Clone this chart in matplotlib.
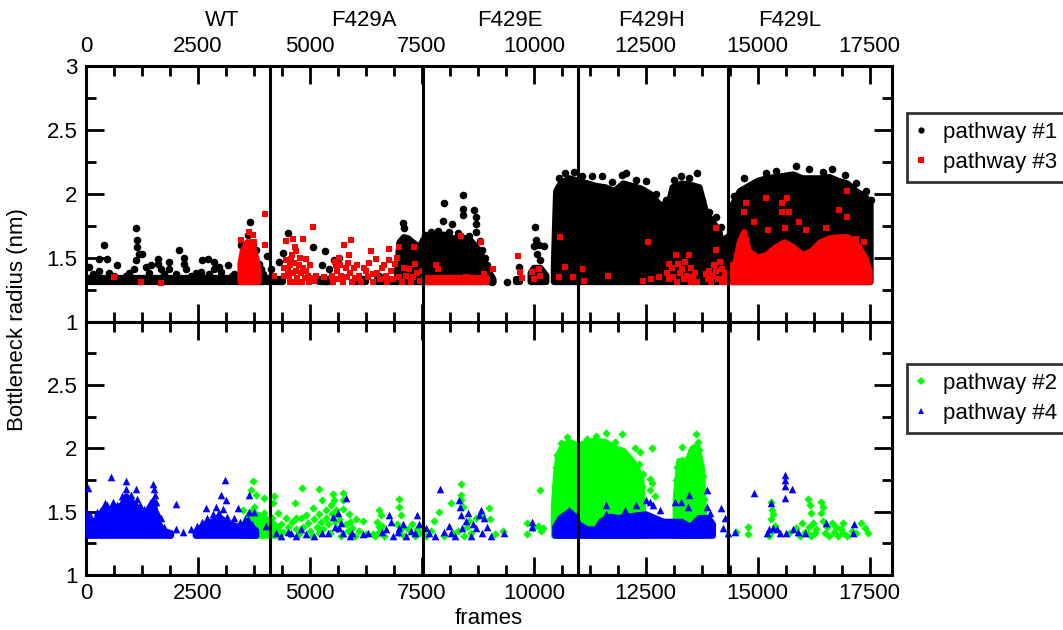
import numpy as np
import matplotlib.pyplot as plt
from matplotlib.lines import Line2D
from matplotlib.ticker import MultipleLocator, FuncFormatter

plt.rcParams['font.family'] = ['Liberation Sans', 'DejaVu Sans']
plt.rcParams['font.size'] = 16

nan = np.nan
BASE = 1.31  # lowest bottleneck radius recorded

systems = ['WT', 'F429A', 'F429E', 'F429H', 'F429L']
system_mid = [3050, 6200, 9470, 12630, 15720]
boundaries = [4100, 7530, 10980, 14340]

# ---- pathway #1 (black) : isolated frames (frame, radius)
p1_pts = [(70, 1.43), (300, 1.49), (300, 1.40), (410, 1.60), (480, 1.49), (700, 1.44), (890, 1.36),
          (150, 1.37), (520, 1.38), (620, 1.36), (950, 1.38), (1400, 1.38), (1750, 1.37), (2000, 1.37),
          (2350, 1.36), (2450, 1.38), (2750, 1.37), (3250, 1.36), (3950, 1.37),
          (1120, 1.73), (1130, 1.64), (1150, 1.58), (1190, 1.53), (1115, 1.48), (1080, 1.41), (1260, 1.53),
          (1340, 1.43), (1450, 1.44), (1600, 1.49), (1600, 1.45), (1670, 1.41), (1860, 1.47), (1860, 1.41),
          (2080, 1.56), (2190, 1.50), (2190, 1.45), (2230, 1.41), (2570, 1.39), (2600, 1.48), (2720, 1.49),
          (2860, 1.47), (2860, 1.41), (2980, 1.43), (3010, 1.39), (3180, 1.44), (3310, 1.37), (3460, 1.60),
          (3500, 1.50), (3660, 1.78), (3610, 1.68), (3720, 1.61), (3790, 1.56), (3870, 1.45), (3900, 1.41),
          (4050, 1.51), (4130, 1.41),
          (4310, 1.47), (4500, 1.69), (4390, 1.54), (5060, 1.58), (5270, 1.44), (5340, 1.55), (5430, 1.41),
          (5540, 1.48), (5650, 1.50), (5360, 1.32), (6550, 1.36), (7070, 1.77), (7100, 1.73),
          (7560, 1.68), (7700, 1.70), (7850, 1.71), (8100, 1.70), (8300, 1.69), (8550, 1.67), (8900, 1.50),
          (8950, 1.44),
          (7970, 1.79), (8000, 1.93), (8180, 1.76), (8420, 1.99), (8410, 1.88), (8420, 1.83), (8670, 1.87),
          (8700, 1.82), (8700, 1.76), (8700, 1.70), (8790, 1.63), (8850, 1.56), (8890, 1.48), (9040, 1.35),
          (9070, 1.31), (9410, 1.31), (9670, 1.43), (9670, 1.33), (10030, 1.74), (10040, 1.64), (10000, 1.59),
          (10120, 1.60), (10230, 1.59), (10080, 1.53), (10150, 1.48),
          (10560, 2.12), (10700, 2.16), (10900, 2.17), (11070, 2.14), (11310, 2.14), (11530, 2.14),
          (11750, 2.09), (11970, 2.15), (12060, 2.16), (12280, 2.11), (12500, 2.10), (12720, 2.00),
          (12950, 1.95), (13130, 2.11), (13280, 2.14), (13470, 2.12), (13650, 2.16), (13760, 1.95),
          (13910, 1.86), (14060, 1.82), (14180, 1.74),
          (14480, 1.98), (14700, 2.12), (15180, 2.16), (15400, 2.18), (15850, 2.22), (16150, 2.19),
          (16450, 2.17), (16670, 2.19), (16960, 2.15), (17190, 2.08), (17410, 2.02), (17520, 1.95)]
# densely populated stretches: upper edge of the cloud (nan splits stretches)
p1_band_x = [0, 4150, nan, 4100, 4400, nan, 5200, 5500, nan, 6000, 6250, nan, 6500, 6950,
             nan, 6950, 7000, 7100, 7200, 7300, 7450, 7530, 7600, 7800, 8000, 8200, 8400, 8600, 8800, 8950,
             9100, nan, 9380, 9440, nan, 9600, 9700, nan, 9930, 10000, 10150, 10280,
             nan, 10450, 10500, 10600, 10800, 11000, 11200, 11400, 11600, 11800, 12000, 12200, 12400,
             12600, 12800, 13000, 13100, 13300, 13500, 13700, 13850, 14000, 14150, 14220,
             14280, 14400, 14450, 14600, 14800, 15000, 15200, 15400, 15600, 15800, 16000, 16200, 16400,
             16600, 16800, 17000, 17200, 17400, 17520]
p1_band_top = [1.34, 1.34, nan, 1.33, 1.33, nan, 1.33, 1.33, nan, 1.33, 1.33, nan, 1.33, 1.33,
               nan, 1.40, 1.62, 1.66, 1.65, 1.62, 1.58, 1.64, 1.66, 1.68, 1.68, 1.65, 1.66, 1.63, 1.55, 1.42,
               1.33, nan, 1.31, 1.31, nan, 1.33, 1.33, nan, 1.38, 1.42, 1.42, 1.36,
               nan, 1.45, 2.02, 2.08, 2.12, 2.10, 2.08, 2.06, 2.05, 2.02, 2.08, 2.06, 2.04,
               2.00, 1.92, 1.90, 2.05, 2.08, 2.07, 2.05, 1.85, 1.78, 1.70, 1.55,
               1.65, 1.68, 1.92, 2.02, 2.06, 2.10, 2.12, 2.13, 2.14, 2.15, 2.12, 2.12, 2.12,
               2.13, 2.10, 2.08, 2.02, 1.98, 1.92]

# ---- pathway #3 (red)
p3_pts = [(630, 1.35), (1230, 1.31), (1670, 1.30), (3470, 1.64), (3650, 1.70), (3720, 1.68), (3760, 1.62),
          (3530, 1.56), (4000, 1.84), (4000, 1.60), (4200, 1.36),
          (4460, 1.63), (4630, 1.65), (4670, 1.58), (4840, 1.65), (5080, 1.74), (4910, 1.49), (4580, 1.49),
          (4690, 1.55), (5140, 1.36), (5320, 1.35), (5580, 1.44), (5770, 1.60), (5920, 1.64), (5880, 1.52),
          (5650, 1.50), (6060, 1.44), (6360, 1.55), (6470, 1.49), (6250, 1.40), (6400, 1.37), (6770, 1.57),
          (6770, 1.48), (6660, 1.44), (6990, 1.58), (6950, 1.50), (7330, 1.58), (7220, 1.41), (7400, 1.38),
          (4420, 1.36), (4420, 1.42), (4460, 1.48), (4500, 1.40), (4540, 1.36), (4560, 1.44), (4600, 1.52),
          (4620, 1.38), (4650, 1.46), (4700, 1.40), (4720, 1.34), (4760, 1.44), (4780, 1.50), (4800, 1.38),
          (4850, 1.42), (4880, 1.34), (4920, 1.40), (4960, 1.36), (5000, 1.44), (5020, 1.34), (4550, 1.31),
          (4680, 1.31), (4830, 1.31), (4980, 1.31), (5100, 1.32),
          (5500, 1.36), (5520, 1.31), (5600, 1.40), (5620, 1.33), (5680, 1.44), (5700, 1.36), (5750, 1.31),
          (5800, 1.42), (5820, 1.35), (5860, 1.46), (5900, 1.38), (5950, 1.31), (5980, 1.42), (6010, 1.34),
          (5560, 1.47), (6100, 1.36), (6150, 1.31), (6200, 1.42), (6300, 1.35), (6330, 1.46), (6420, 1.31),
          (6500, 1.38), (6560, 1.33), (6600, 1.42), (6700, 1.36), (6730, 1.31), (6820, 1.40), (6850, 1.33),
          (6900, 1.45), (7000, 1.35), (7050, 1.31), (7100, 1.42), (7150, 1.36), (7250, 1.31), (7300, 1.35),
          (7350, 1.45), (7450, 1.32), (7500, 1.40),
          (7810, 1.44), (7850, 1.41), (8370, 1.67), (8480, 1.35), (8820, 1.62), (8890, 1.37), (9080, 1.41),
          (9650, 1.51), (9700, 1.39), (9740, 1.34), (9970, 1.39), (10120, 1.41), (10150, 1.36), (10010, 1.33),
          (10580, 1.66), (10690, 1.43), (10560, 1.35), (10880, 1.35), (11070, 1.41), (11130, 1.32),
          (11660, 1.36), (12560, 1.62), (12430, 1.32), (12610, 1.33), (12800, 1.35), (13030, 1.45),
          (13170, 1.52), (13470, 1.52), (13320, 1.41), (13840, 1.37), (14060, 1.73), (14060, 1.56),
          (14030, 1.44), (13920, 1.40), (14210, 1.41), (14250, 1.34), (14400, 1.44),
          (12980, 1.38), (13020, 1.33), (13080, 1.42), (13120, 1.35), (13200, 1.31), (13230, 1.45),
          (13270, 1.38), (13350, 1.33), (13380, 1.47), (13420, 1.36), (13500, 1.42), (13520, 1.31),
          (13560, 1.35), (13600, 1.38), (13650, 1.31), (13900, 1.33), (13950, 1.31), (14000, 1.36),
          (14080, 1.40), (14120, 1.33), (14150, 1.47), (14200, 1.31), (14280, 1.38), (14320, 1.31),
          (14730, 1.93), (14700, 1.86), (14920, 1.78), (15180, 1.97), (15220, 1.72), (15550, 1.93),
          (15660, 1.97), (15550, 1.86), (15700, 1.86), (15620, 1.73), (15920, 1.78), (16070, 1.72),
          (16520, 1.73), (16820, 1.87), (17000, 2.02), (17000, 1.82), (17190, 1.65), (17370, 1.62),
          (17410, 1.48)]
p3_band_x = [3450, 3500, 3600, 3700, 3800, 3850, nan, 7550, 8950,
             nan, 14380, 14500, 14600, 14700, 14800, 15000, 15200, 15400, 15600, 15800, 16000, 16200,
             16400, 16600, 16800, 17000, 17200, 17400, 17500]
p3_band_top = [1.45, 1.55, 1.62, 1.62, 1.50, 1.40, nan, 1.34, 1.34,
               nan, 1.40, 1.45, 1.62, 1.70, 1.55, 1.50, 1.52, 1.58, 1.62, 1.58, 1.52, 1.55,
               1.62, 1.65, 1.66, 1.66, 1.62, 1.50, 1.40]

# ---- pathway #2 (green)
p2_pts = [(3720, 1.74), (3680, 1.67), (3790, 1.63), (3760, 1.54), (3500, 1.51), (3870, 1.47), (3980, 1.61),
          (3980, 1.49), (4200, 1.62), (4170, 1.57), (4280, 1.49), (4460, 1.45), (4670, 1.57), (4690, 1.45),
          (4820, 1.69), (4910, 1.47), (5060, 1.53), (5210, 1.68), (5280, 1.59), (5210, 1.48), (5360, 1.51),
          (5510, 1.64), (5540, 1.59), (5470, 1.55), (5580, 1.51), (5730, 1.65), (5730, 1.59), (5880, 1.48),
          (6030, 1.44), (6180, 1.43), (6400, 1.32), (6550, 1.51), (6580, 1.47), (6550, 1.38), (6990, 1.60),
          (6990, 1.54), (7030, 1.47), (7070, 1.38), (7290, 1.40), (7400, 1.36),
          (4150, 1.45), (4200, 1.38), (4250, 1.33), (4350, 1.40), (4400, 1.34), (4500, 1.38), (4550, 1.32),
          (4600, 1.42), (4700, 1.36), (4750, 1.32), (4800, 1.45), (4850, 1.38), (4950, 1.41), (5000, 1.35),
          (5050, 1.31), (5100, 1.44), (5150, 1.38), (5200, 1.33), (5250, 1.42), (5300, 1.36), (5350, 1.45),
          (5400, 1.40), (5450, 1.33), (5500, 1.48), (5550, 1.42), (5600, 1.36), (5650, 1.44), (5700, 1.31),
          (5750, 1.52), (5800, 1.40), (5850, 1.35), (5900, 1.42), (5950, 1.37), (6000, 1.31), (6100, 1.35),
          (6250, 1.32), (6450, 1.31), (6500, 1.42), (6550, 1.34), (6600, 1.39), (6650, 1.31), (6950, 1.40),
          (7000, 1.33), (7100, 1.31), (7200, 1.36), (7350, 1.31), (7450, 1.33),
          (7600, 1.31), (7700, 1.35), (8000, 1.31), (8200, 1.33), (8300, 1.35), (8450, 1.31), (8500, 1.38),
          (8600, 1.33),
          (7780, 1.43), (7890, 1.50), (8150, 1.57), (8370, 1.72), (8370, 1.63), (8370, 1.59), (8410, 1.54),
          (8560, 1.43), (8700, 1.45), (8850, 1.47), (9000, 1.53), (9020, 1.44), (9130, 1.32), (9320, 1.35),
          (9840, 1.41), (9840, 1.32), (9990, 1.37), (10130, 1.67), (10100, 1.39), (10170, 1.35), (10210, 1.37),
          (10480, 1.70), (10500, 1.85), (10520, 1.95), (10600, 2.04), (12350, 1.88), (12420, 1.70),
          (13180, 1.75), (13200, 1.85), (13780, 1.78), (13800, 1.60),
          (10750, 2.09), (10620, 2.00), (11180, 2.07), (11400, 2.10), (11620, 2.12), (11960, 2.11),
          (11810, 2.05), (12000, 1.96), (12250, 2.00), (12370, 1.97), (12440, 1.80), (12640, 2.00),
          (12590, 1.76), (12630, 1.73), (12590, 1.67), (12700, 1.62), (13300, 2.01), (13300, 1.91),
          (13620, 2.11), (13670, 2.05), (13690, 1.99), (13520, 1.99), (13700, 1.87), (13780, 1.68),
          (13930, 1.42), (13850, 1.35),
          (14520, 1.34), (14780, 1.38), (14780, 1.32), (15300, 1.58), (15330, 1.51), (15340, 1.48),
          (15380, 1.39), (15700, 1.33), (15850, 1.37), (16000, 1.41), (16120, 1.60), (16160, 1.55),
          (16200, 1.49), (16230, 1.41), (16270, 1.33), (16420, 1.58), (16460, 1.54), (16420, 1.49),
          (16650, 1.41), (16760, 1.38), (16900, 1.41), (16900, 1.33), (17310, 1.41), (17390, 1.37),
          (17460, 1.33), (17100, 1.35),
          (16100, 1.33), (16150, 1.38), (16200, 1.31), (16300, 1.36), (16450, 1.43), (16500, 1.33),
          (16550, 1.38), (16600, 1.31), (16700, 1.34), (16800, 1.31), (16850, 1.36), (17000, 1.31),
          (17200, 1.33), (15300, 1.44), (15320, 1.35), (15250, 1.31), (15950, 1.31), (16050, 1.34)]
p2_band_x = [3500, 3600, 3700, 3800, 3900, 4000, 4100, 4200, 4300,
             nan, 10450, 10500, 10550, 10650, 10800, 11000, 11200, 11400, 11600, 11800, 12000, 12150,
             12300, 12400, 12450, nan, 13170, 13250, 13350, 13450, 13550, 13650, 13750, 13800]
p2_band_top = [1.35, 1.45, 1.50, 1.48, 1.42, 1.45, 1.42, 1.40, 1.36,
               nan, 1.55, 1.80, 1.95, 2.02, 2.05, 2.02, 2.05, 2.06, 2.05, 2.00, 1.98, 1.92,
               1.85, 1.75, 1.45, nan, 1.60, 1.90, 1.88, 1.92, 2.00, 2.02, 1.85, 1.50]

# ---- pathway #4 (blue)
p4_pts = [(40, 1.69), (0, 1.50), (560, 1.77), (890, 1.74), (900, 1.68), (1120, 1.68), (1040, 1.58),
          (800, 1.62), (600, 1.58), (420, 1.57), (480, 1.55), (1200, 1.55), (1490, 1.72), (1520, 1.68),
          (1540, 1.63), (1560, 1.58), (1680, 1.45), (2010, 1.56), (2010, 1.36), (2160, 1.34), (2340, 1.36),
          (2490, 1.39), (2680, 1.53), (2900, 1.54), (3010, 1.63), (3110, 1.75), (3120, 1.59), (2980, 1.49),
          (2830, 1.48), (3390, 1.53), (3500, 1.39), (3630, 1.63), (3650, 1.50), (3610, 1.44), (3760, 1.50),
          (4020, 1.39),
          (100, 1.47), (200, 1.44), (250, 1.50), (350, 1.48), (500, 1.52), (650, 1.50), (700, 1.55),
          (750, 1.48), (850, 1.57), (950, 1.52), (1000, 1.63), (1050, 1.50), (1150, 1.60), (1250, 1.48),
          (1300, 1.52), (1350, 1.46), (1450, 1.55), (1600, 1.48), (1650, 1.40), (1750, 1.38), (2600, 1.42),
          (2700, 1.45), (2750, 1.40), (2850, 1.44), (2950, 1.48), (3050, 1.52), (3150, 1.46), (3250, 1.42),
          (3300, 1.45), (3450, 1.42), (3550, 1.44), (3700, 1.40),
          (4240, 1.33), (4580, 1.33), (4800, 1.36), (4910, 1.32), (5280, 1.33), (5510, 1.46), (5620, 1.49),
          (5730, 1.33), (5800, 1.61), (5650, 1.37), (5950, 1.33), (6180, 1.32), (6620, 1.34), (6770, 1.47),
          (6810, 1.42), (6960, 1.34), (7070, 1.40), (7250, 1.35), (7400, 1.47), (7440, 1.40),
          (4350, 1.31), (4500, 1.34), (4700, 1.31), (5100, 1.31), (5400, 1.33), (5550, 1.38), (5700, 1.41),
          (5900, 1.31), (6300, 1.33), (6700, 1.36), (6850, 1.31), (7000, 1.37), (7150, 1.31), (7350, 1.33),
          (7600, 1.37), (7800, 1.31), (8000, 1.34), (8250, 1.31), (8400, 1.37), (8600, 1.31), (8650, 1.40),
          (8850, 1.33), (8950, 1.38), (9050, 1.31),
          (7660, 1.33), (7900, 1.68), (8110, 1.39), (8150, 1.33), (8330, 1.59), (8350, 1.54), (8370, 1.47),
          (8480, 1.43), (8540, 1.49), (8780, 1.47), (8820, 1.51), (8890, 1.45), (8700, 1.37), (9330, 1.33),
          (9970, 1.42), (9970, 1.38),
          (10790, 1.51), (11620, 1.55), (11620, 1.48), (11600, 1.41), (12030, 1.51), (12290, 1.55),
          (12510, 1.59), (12590, 1.58), (12660, 1.55), (12810, 1.51), (13150, 1.58), (13290, 1.58),
          (13470, 1.63), (13440, 1.54), (13870, 1.67), (13860, 1.54), (13930, 1.49), (14190, 1.53),
          (14220, 1.37), (14260, 1.45), (14340, 1.33),
          (14490, 1.34), (14920, 1.65), (15300, 1.57), (15200, 1.33), (15260, 1.36), (15350, 1.37),
          (15430, 1.36), (15500, 1.33), (15600, 1.79), (15600, 1.75), (15600, 1.70), (15770, 1.68),
          (15600, 1.61), (15640, 1.33), (15800, 1.36), (15900, 1.34), (16050, 1.33), (16520, 1.41),
          (17160, 1.40), (17130, 1.33)]
p4_band_x = [0, 200, 400, 600, 800, 900, 1000, 1100, 1200, 1300, 1400, 1500, 1600, 1700, 1800, 1900,
             nan, 2450, 2600, 2800, 3000, 3200, 3400, 3600, 3800, nan,
             10480, 10600, 10800, 10950, 11000, 11200, 11400, 11500, 11700, 11900, 12100, 12300, 12500,
             12700, 12900, 13100, 13300, 13500, 13700, 13900, 14000]
p4_band_top = [1.45, 1.42, 1.52, 1.52, 1.55, 1.62, 1.58, 1.55, 1.50, 1.45, 1.52, 1.58, 1.42, 1.36, 1.34, 1.33,
               nan, 1.34, 1.38, 1.42, 1.45, 1.40, 1.38, 1.40, 1.35, nan,
               1.38, 1.45, 1.50, 1.45, 1.40, 1.36, 1.36, 1.42, 1.46, 1.45, 1.46, 1.47, 1.48,
               1.45, 1.42, 1.42, 1.42, 1.38, 1.45, 1.45, 1.40]


def draw_pathway(ax, pts, band_x, band_top, color, marker, size, z):
    bx = np.array(band_x, dtype=float)
    bt = np.array(band_top, dtype=float)
    ax.fill_between(bx, BASE, bt, color=color, edgecolor=color, linewidth=4.5,
                    joinstyle='round', zorder=z)
    x, y = zip(*pts)
    ax.scatter(x, y, s=size, c=color, marker=marker, linewidths=0, zorder=z + 0.5)


fig = plt.figure(figsize=(10.63, 6.30), dpi=100)
W, H = 1063, 630
ax1 = fig.add_axes([86 / W, 1 - 321.7 / H, 806 / W, 256 / H])
ax2 = fig.add_axes([86 / W, 1 - 575 / H, 806 / W, 253.3 / H])

draw_pathway(ax1, p1_pts, p1_band_x, p1_band_top, 'black', 'o', 30, 2)
draw_pathway(ax1, p3_pts, p3_band_x, p3_band_top, 'red', 's', 22, 3)
draw_pathway(ax2, p2_pts, p2_band_x, p2_band_top, '#00ff00', 'D', 18, 2)
draw_pathway(ax2, p4_pts, p4_band_x, p4_band_top, 'blue', '^', 30, 3)

fmt = FuncFormatter(lambda v, pos: f'{v:g}')
for ax in (ax1, ax2):
    ax.set_xlim(0, 18000)
    ax.set_ylim(1, 3)
    ax.xaxis.set_major_locator(MultipleLocator(2500))
    ax.xaxis.set_minor_locator(MultipleLocator(625))
    ax.yaxis.set_minor_locator(MultipleLocator(0.25))
    ax.yaxis.set_major_formatter(fmt)
    ax.tick_params(which='both', direction='in', top=True, right=True, width=2)
    ax.tick_params(which='major', length=13, pad=6)
    ax.tick_params(which='minor', length=7)
    for sp in ax.spines.values():
        sp.set_linewidth(2.2)
    for b in boundaries:
        ax.axvline(b, color='black', lw=2.2, zorder=5)

ax1.set_yticks([1, 1.5, 2, 2.5, 3])
ax2.set_yticks([1, 1.5, 2, 2.5])
ax1.tick_params(axis='x', labeltop=True, labelbottom=False)
ax2.set_xlabel('frames', labelpad=3)

for name, xm in zip(systems, system_mid):
    ax1.text(xm, 1.178, name, transform=ax1.get_xaxis_transform(), ha='center', va='center')

fig.text(18 / W, 1 - 320 / H, 'Bottleneck radius (nm)', rotation=90, ha='center', va='center')


def legend_box(handles, labels, top_px):
    leg = fig.legend(handles, labels, loc='upper left', bbox_to_anchor=(907 / W, 1 - top_px / H),
                     frameon=True, fancybox=False, handlelength=0.5, handletextpad=0.7,
                     borderpad=0.4, labelspacing=0.4, borderaxespad=0)
    leg.get_frame().set_edgecolor('black')
    leg.get_frame().set_linewidth(2)
    return leg


def handle(color, marker, ms):
    return Line2D([], [], ls='none', marker=marker, color=color, markersize=ms, markeredgewidth=0)


legend_box([handle('black', 'o', 4.5), handle('red', 's', 4)], ['pathway #1', 'pathway #3'], 113)
legend_box([handle('#00ff00', 'D', 4), handle('blue', '^', 5)], ['pathway #2', 'pathway #4'], 364)

fig.savefig('out.png', dpi=100)
